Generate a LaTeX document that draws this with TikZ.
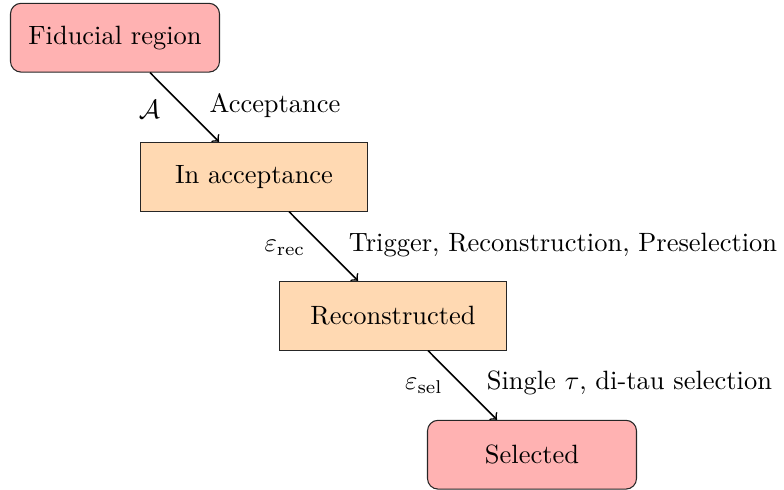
\documentclass[tikz,border=0pt]{standalone}
\usetikzlibrary{calc}
\begin{document}
\begin{tikzpicture}[x=0.378pt,y=-0.378pt,
  rbox/.style={draw=black!85, fill=red!30, rounded corners=4pt, minimum width=79pt, minimum height=26pt, inner sep=0pt},
  obox/.style={draw=black!85, fill=orange!30, minimum width=85.8pt, minimum height=26pt, inner sep=0pt},
  arr/.style={->, semithick},
  tlab/.style={anchor=base west, inner sep=0pt},
  mlab/.style={anchor=base east, inner sep=0pt}]
\useasboundingbox (0,0) rectangle (784,490);
\node[rbox] (fid) at (115,37.7) {Fiducial region};
\node[obox] (acc) at (254,176.7) {In acceptance};
\node[obox] (rec) at (393,315.7) {Reconstructed};
\node[rbox] (sel) at (532,454.7) {Selected};
\draw[arr] ([xshift=13.23pt]fid.south) -- ([xshift=-13.23pt]acc.north)
  node[midway, mlab, xshift=-9pt, yshift=-4.1pt] {$\mathcal{A}$}
  node[midway, tlab, xshift=9.2pt, yshift=-2.1pt] {Acceptance};
\draw[arr] ([xshift=13.23pt]acc.south) -- ([xshift=-13.23pt]rec.north)
  node[midway, mlab, xshift=-6.6pt, yshift=-2.1pt] {$\varepsilon_{\mathrm{rec}}$}
  node[midway, tlab, xshift=9.3pt, yshift=-2.1pt] {Trigger, Reconstruction, Preselection};
\draw[arr] ([xshift=13.23pt]rec.south) -- ([xshift=-13.23pt]sel.north)
  node[midway, mlab, xshift=-7.2pt, yshift=-1.8pt] {$\varepsilon_{\mathrm{sel}}$}
  node[midway, tlab, xshift=8.9pt, yshift=-1.8pt] {Single $\tau$, di-tau selection};
\end{tikzpicture}
\end{document}
